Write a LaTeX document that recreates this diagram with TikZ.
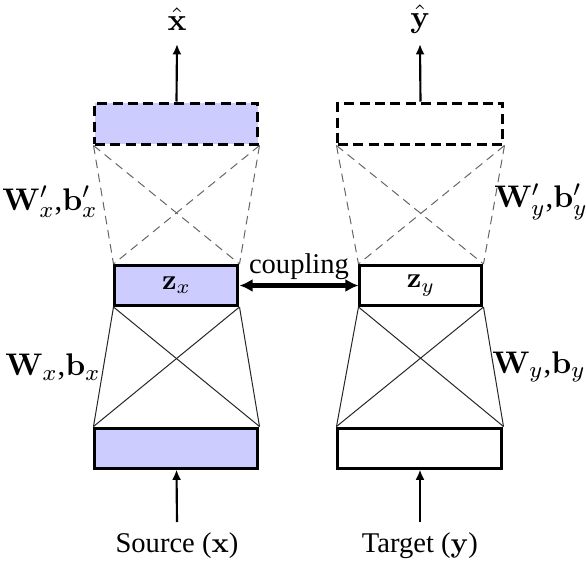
\documentclass[tikz,border=0pt]{standalone}
\usepackage[no-math]{fontspec}
\setmainfont{Liberation Serif}
\usetikzlibrary{arrows.meta}
\begin{document}
\begin{tikzpicture}[x=0.35pt,y=-0.35pt,
  layer/.style={draw=black,line width=1.05pt,inner sep=0pt,minimum height={40*0.35pt}},
  hid/.style={layer,dashed,dash pattern=on 3.5pt off 1.9pt},
  wide/.style={minimum width={163*0.35pt}},
  narrow/.style={minimum width={123*0.35pt}},
  src/.style={fill=blue!20},
  enc/.style={line width=0.35pt,draw=black!85},
  dec/.style={line width=0.35pt,draw=black!60,dash pattern=on 3pt off 2pt},
  io/.style={line width=0.75pt,-{Latex[length=3.6pt,width=3.1pt]}},
  lbl/.style={inner sep=0pt},
  wlbl/.style={inner sep=0pt,font=\fontsize{10.8}{12}\selectfont}
]
\useasboundingbox (0,0) rectangle (586,562);
% boxes
\node[hid,wide,src,minimum height={41*0.35pt}] (tx) at (176.5,123.5) {};
\node[layer,narrow,src] (zx) at (176.5,285.5) {$\mathbf{z}_x$};
\node[layer,wide,src] (bx) at (176.5,448) {};
\node[hid,wide,minimum height={41*0.35pt},minimum width={165*0.35pt}] (ty) at (420.5,123.5) {};
\node[layer,narrow,minimum width={122*0.35pt}] (zy) at (421,285.5) {$\mathbf{z}_y$};
\node[layer,wide,minimum width={164*0.35pt}] (by) at (420,448) {};
% encoder connections
\foreach \z/\b in {zx/bx,zy/by}{
  \draw[enc] (\z.south west) -- (\b.north west);
  \draw[enc] (\z.south east) -- (\b.north east);
  \draw[enc] (\z.south west) -- (\b.north east);
  \draw[enc] (\z.south east) -- (\b.north west);
}
% decoder connections
\foreach \t/\z in {tx/zx,ty/zy}{
  \draw[dec] (\t.south west) -- (\z.north west);
  \draw[dec] (\t.south east) -- (\z.north east);
  \draw[dec] (\t.south west) -- (\z.north east);
  \draw[dec] (\t.south east) -- (\z.north west);
}
% coupling
\draw[line width=1.5pt,{Latex[length=4.6pt,width=4.6pt]}-{Latex[length=4.6pt,width=4.6pt]}] (zx.east) -- node[above,inner sep=1.3pt] {coupling} (zy.west);
% outputs
\node[wlbl] (xh) at (177,19) {$\hat{\mathbf{x}}$};
\node[wlbl] (yh) at (420,19) {$\hat{\mathbf{y}}$};
\coordinate (xht) at (177,44);
\coordinate (yht) at (420,44);
\draw[io] (tx.north) -- (xht);
\draw[io] (ty.north) -- (yht);
% inputs
\node[lbl] (sx) at (177,546) {Source ($\mathbf{x}$)};
\node[lbl] (ty2) at (420,546) {Target ($\mathbf{y}$)};
\coordinate (sxa) at (177,522);
\coordinate (tya) at (420,522);
\draw[io] (sxa) -- (bx.south);
\draw[io] (tya) -- (by.south);
% weight labels
\node[wlbl] (wdx) at (50,202) {$\mathbf{W}'_x$,$\mathbf{b}'_x$};
\node[wlbl] (wex) at (53,367) {$\mathbf{W}_x$,$\mathbf{b}_x$};
\node[wlbl] (wdy) at (541,202) {$\mathbf{W}'_y$,$\mathbf{b}'_y$};
\node[wlbl] (wey) at (539,367) {$\mathbf{W}_y$,$\mathbf{b}_y$};
\end{tikzpicture}
\end{document}
